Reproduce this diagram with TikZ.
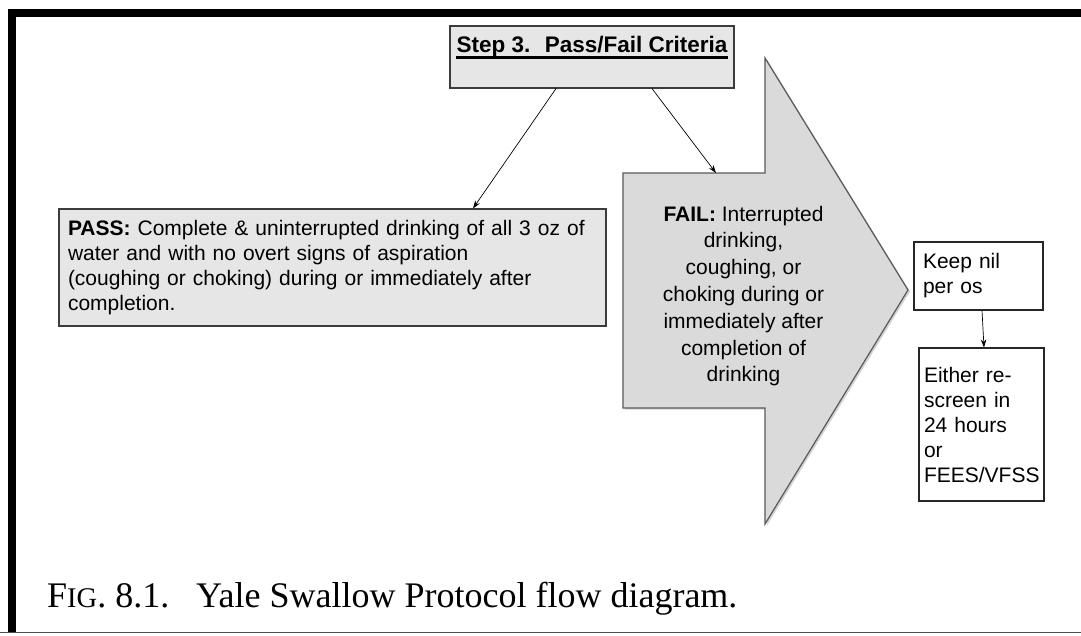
\documentclass[tikz,border=0pt]{standalone}
\usepackage{fontspec}
\setmainfont{Liberation Sans}
\newfontfamily\capfont{Liberation Serif}
\usetikzlibrary{arrows.meta,calc,shadows}
\definecolor{boxFill}{RGB}{230,230,230}
\definecolor{failFill}{RGB}{218,218,218}
\definecolor{edgeGray}{RGB}{60,60,60}
\tikzset{
    every node/.append style={align=left},
    critbox/.style={rectangle,draw=edgeGray,line width=1.1pt,fill=boxFill,inner ysep=0pt},
    nilbox/.style={rectangle,draw=black!85,line width=1.1pt,fill=white,inner ysep=0pt},
    failshape/.style={draw=black!65,line width=1.2pt,fill=failFill,
        drop shadow={shadow xshift=2pt,shadow yshift=-1.5pt,opacity=0.35}},
    arr/.style={-{Stealth[length=8pt,width=5.5pt]},line width=0.7pt},
    txt/.style={font=\fontsize{21}{25}\selectfont},
    capt/.style={font=\capfont\fontsize{36}{36}\selectfont,inner sep=0pt,anchor=base west}
}

\begin{document}
\begin{tikzpicture}[x=1pt,y=-1pt]
    \useasboundingbox (0,0) rectangle (1081,635);
    % page frame
    \fill (8,9) rectangle (1081,17);
    \fill (8,9) rectangle (16,633);
    \draw[black!70,line width=1.2pt] (0,632.5) -- (1081,632.5);

    \node[critbox,minimum width=284pt,minimum height=62pt] (step) at (592,57) {};
    \node[font=\bfseries\fontsize{22.5}{27}\selectfont,inner sep=0pt,anchor=base] (title) at (592,52) {Step 3.~ Pass/Fail Criteria};
    \draw[line width=3pt] ($(title.base west)+(0,5.5)$) -- ($(title.base east)+(0,5.5)$);

    \node[critbox,txt,text width=529pt,inner xsep=9pt,minimum height=117pt] (pass) at (332.5,267.5)
        {\textbf{PASS:} Complete \& uninterrupted drinking of all 3 oz of\\water and with no overt signs of aspiration\\(coughing or choking) during or immediately after\\completion.};

    % big FAIL arrow
    \draw[failshape] (623,173) -- (765,173) -- (765,58) -- (908,290) -- (765,524) -- (765,408) -- (623,408) -- cycle;
    \coordinate (failtop) at (716,173);
    \node[align=center,font=\fontsize{21}{26.8}\selectfont] (fail) at (743.5,296)
        {\textbf{FAIL:} Interrupted\\drinking,\\coughing, or\\choking during or\\immediately after\\completion of\\drinking};

    \node[nilbox,txt,text width=111pt,inner xsep=9pt,minimum height=68pt] (keep) at (978.5,276) {Keep nil\\per os};
    \node[nilbox,txt,text width=115pt,inner xsep=5pt,minimum height=153pt] (either) at (981.5,424.5)
        {Either re-\\screen in\\24 hours\\or\\FEES/VFSS};

    \draw[arr] ($(step.south)+(-36,0)$) -- ($(pass.north)+(140.5,0)$);
    \draw[arr] ($(step.south)+(60,0)$) -- (failtop);
    \draw[arr] ($(keep.south)+(3.5,0)$) -- ($(either.north)+(2.5,0)$);

    \node[capt] (figlabel) at (47,607) {F{\fontsize{28.5}{28.5}\selectfont IG}. 8.1.};
    \node[capt] (figtext) at (196,607) {Yale Swallow Protocol flow diagram.};
\end{tikzpicture}
\end{document}
